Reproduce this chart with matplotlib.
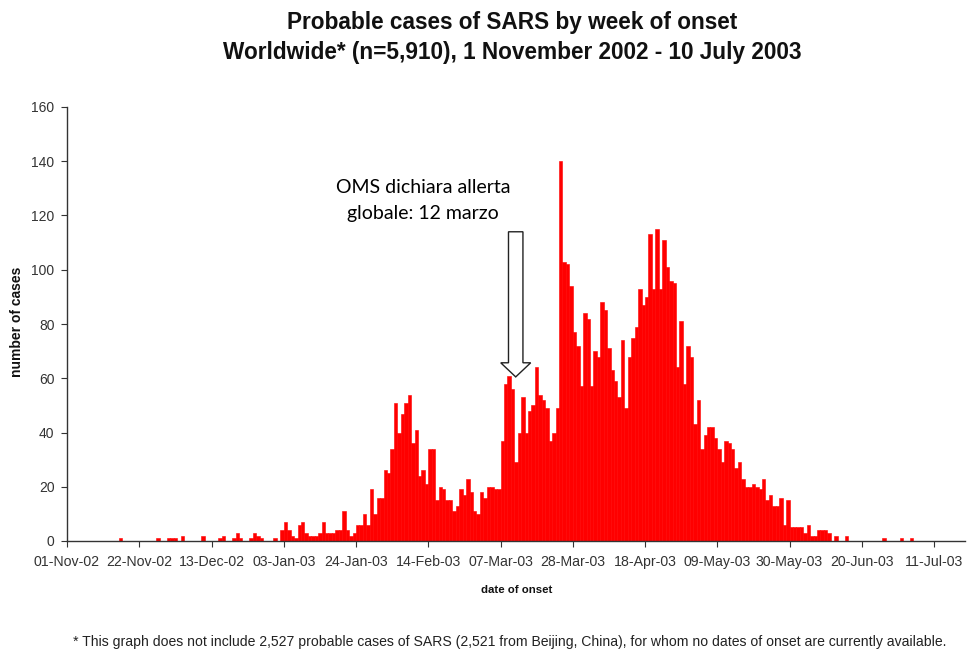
import matplotlib
matplotlib.use("Agg")
import matplotlib.pyplot as plt
import matplotlib.dates as mdates
from matplotlib.patches import FancyArrow
import pandas as pd

# ---------------- data (daily probable SARS cases by date of onset) ----------------
start_date = "2002-11-01"
nov_2002 = [0, 0, 0, 0, 0, 0, 0, 0, 0, 0, 0, 0, 0, 0, 0, 1, 0, 0, 0, 0,
            0, 0, 0, 0, 0, 0, 1, 0, 0, 1]
dec_2002 = [1, 1, 0, 2, 0, 0, 0, 0, 0, 2, 0, 0, 0, 0, 1, 2, 0, 0, 1, 3,
            1, 0, 0, 1, 3, 2, 1, 0, 0, 0, 1]
jan_2003 = [0, 4, 7, 4, 2, 1, 6, 7, 3, 2, 2, 2, 3, 7, 3, 3, 3, 4, 4, 11,
            4, 2, 3, 6, 6, 10, 6, 19, 10, 16, 16]
feb_2003 = [26, 25, 34, 51, 40, 47, 51, 54, 36, 41, 24, 26, 21, 34, 34, 15, 20, 19, 15, 15,
            11, 13, 19, 17, 23, 18, 11, 10]
mar_2003 = [18, 16, 20, 20, 19, 19, 37, 58, 61, 56, 29, 40, 53, 40, 48, 50, 64, 54, 52, 49,
            37, 40, 49, 140, 103, 102, 94, 77, 72, 57, 84]
apr_2003 = [82, 57, 70, 68, 88, 85, 71, 63, 59, 53, 74, 49, 68, 75, 79, 93, 87, 90, 113, 93,
            115, 93, 111, 101, 96, 95, 64, 81, 58, 72]
may_2003 = [68, 43, 52, 34, 39, 42, 42, 38, 34, 29, 37, 36, 34, 27, 29, 23, 20, 20, 21, 20,
            19, 23, 15, 17, 13, 13, 16, 6, 15, 5, 5]
jun_2003 = [5, 5, 3, 6, 2, 2, 4, 4, 4, 3, 0, 2, 0, 0, 2, 0, 0, 0, 0, 0,
            0, 0, 0, 0, 0, 1, 0, 0, 0, 0]
jul_2003 = [1, 0, 0, 1, 0, 0, 0, 0, 0, 0]

tick_labels = ["01-Nov-02", "22-Nov-02", "13-Dec-02", "03-Jan-03", "24-Jan-03",
               "14-Feb-03", "07-Mar-03", "28-Mar-03", "18-Apr-03", "09-May-03",
               "30-May-03", "20-Jun-03", "11-Jul-03"]
y_ticks = [0, 20, 40, 60, 80, 100, 120, 140, 160]
axis_end = "2003-07-20"

title_line1 = "Probable cases of SARS by week of onset"
title_line2 = "Worldwide* (n=5,910), 1 November 2002 - 10 July 2003"
x_label = "date of onset"
y_label = "number of cases"
footnote = ("* This graph does not include 2,527 probable cases of SARS (2,521 from Beijing, "
            "China), for whom no dates of onset are currently available.")
note_text = "OMS dichiara allerta\nglobale: 12 marzo"
note_date = "2003-02-12 10:00"
note_y = 125.5
arrow_date = "2003-03-11 10:00"
arrow_top = 114
arrow_tip = 60.5

# ---------------- figure ----------------
counts = nov_2002 + dec_2002 + jan_2003 + feb_2003 + mar_2003 + apr_2003 + may_2003 + jun_2003 + jul_2003
dates = pd.date_range(start_date, periods=len(counts), freq="D")

fig = plt.figure(figsize=(9.69, 6.5), dpi=100)
ax = fig.add_axes([67 / 969, 1 - 541 / 650, (965 - 67) / 969, (541 - 107) / 650])

ax.bar(dates, counts, width=1.0, align="edge", color="#FF0000",
       edgecolor="#FF0000", linewidth=0.4)

ax.set_xlim(pd.Timestamp(start_date), pd.Timestamp(axis_end))
ax.set_ylim(0, 160)

tick_pos = pd.to_datetime(tick_labels, format="%d-%b-%y")
ax.set_xticks(tick_pos)
ax.set_xticklabels(tick_labels)
ax.set_yticks(y_ticks)
ax.set_yticklabels([str(v) for v in y_ticks])

for s in ["top", "right"]:
    ax.spines[s].set_visible(False)
for s in ["left", "bottom"]:
    ax.spines[s].set_color("#333333")
    ax.spines[s].set_linewidth(1.0)

ax.tick_params(axis="both", direction="out", length=4, width=0.8, color="#333333",
               labelcolor="#333333")
ax.tick_params(axis="x", pad=6, labelsize=10.2)
ax.tick_params(axis="y", pad=5, labelsize=10)
for lab in ax.get_xticklabels() + ax.get_yticklabels():
    lab.set_family(["Liberation Sans"])

# titles and labels
tx = 512 / 969
fig.text(tx, 1 - 22 / 650, title_line1, ha="center", va="center",
         fontsize=16.3, fontweight="bold", family=["Liberation Sans"], color="#111111")
fig.text(tx, 1 - 52 / 650, title_line2, ha="center", va="center",
         fontsize=16.3, fontweight="bold", family=["Liberation Sans"], color="#111111")
fig.text(517 / 969, 1 - 590 / 650, x_label, ha="center", va="center",
         fontsize=8.2, fontweight="bold", family=["Liberation Sans"], color="#111111")
fig.text(17 / 969, 1 - 322 / 650, y_label, ha="center", va="center", rotation=90,
         fontsize=10, fontweight="bold", family=["Liberation Sans"], color="#111111")
fig.text(510 / 969, 1 - 642 / 650, footnote, ha="center", va="center",
         fontsize=10.1, family=["Liberation Sans"], color="#222222")

# annotation
ax.text(pd.Timestamp(note_date), note_y, note_text, ha="center", va="center",
        fontsize=14, family=["Lato", "DejaVu Sans"], color="#000000", linespacing=1.6)
ax_x = mdates.date2num(pd.Timestamp(arrow_date))
arrow = FancyArrow(ax_x, arrow_top, 0, arrow_tip - arrow_top, width=4.2,
                   head_width=8.7, head_length=5.2, length_includes_head=True,
                   facecolor="white", edgecolor="#222222", linewidth=1.0, zorder=5)
ax.add_patch(arrow)

fig.savefig("out.png", dpi=100)
